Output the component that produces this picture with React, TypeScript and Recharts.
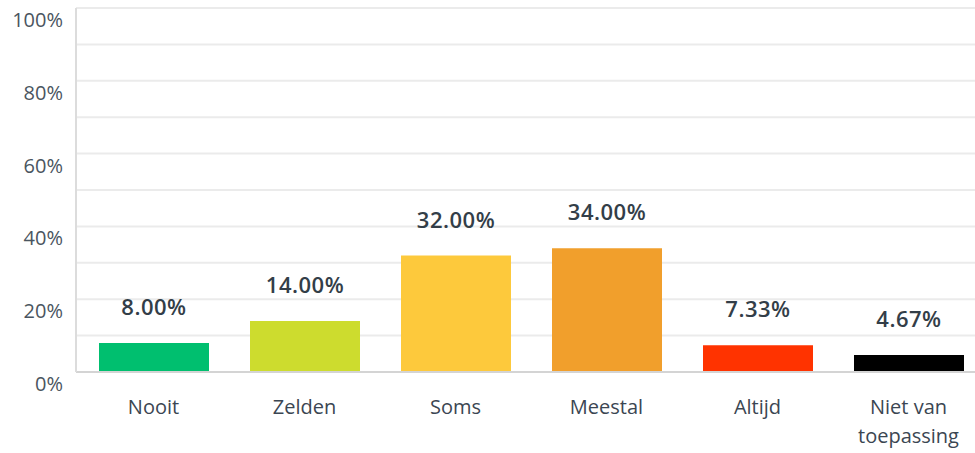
import { BarChart, Bar, XAxis, YAxis, CartesianGrid, LabelList, Cell } from 'recharts'

const categories = ['Nooit', 'Zelden', 'Soms', 'Meestal', 'Altijd', 'Niet van toepassing']
const percentages = [8.0, 14.0, 32.0, 34.0, 7.33, 4.67]
const barColors = ['#00bf6f', '#cddc2e', '#fdc93c', '#f19f2c', '#ff3300', '#000000']
const gridTicks = [0, 10, 20, 30, 40, 50, 60, 70, 80, 90, 100]
const labelTicks = [0, 20, 40, 60, 80, 100]
// long category names wrap onto two lines
const wrappedLabels: Record<string, string[]> = {
  'Niet van toepassing': ['Niet van', 'toepassing'],
}

const data = categories.map((name, i) => ({ name, value: percentages[i], color: barColors[i] }))

const FONT = '"Open Sans", sans-serif'

function YTick({ x, y, payload }: any) {
  if (!labelTicks.includes(payload.value)) return null
  return (
    <text x={x} y={y} dy={19} textAnchor="end" fontSize={20} fontFamily={FONT} fill="#4a5560">
      {payload.value}%
    </text>
  )
}

function XTick({ x, y, payload }: any) {
  const lines = wrappedLabels[payload.value] ?? [payload.value]
  return (
    <text x={x} y={y} textAnchor="middle" fontSize={20} fontFamily={FONT} fill="#3b4652">
      {lines.map((line, i) => (
        <tspan key={i} x={x} dy={i === 0 ? 34 : 29}>
          {line}
        </tspan>
      ))}
    </text>
  )
}

export default function App() {
  return (
    <div style={{ position: 'absolute', left: 0, top: 0, width: 975, height: 453, overflow: 'hidden', background: '#fff' }}>
      <BarChart width={990} height={453} data={data} margin={{ top: 8, right: 6, left: 0, bottom: 51 }}>
        <CartesianGrid vertical={false} stroke="#ebebeb" strokeWidth={2} />
        <XAxis
          dataKey="name"
          height={30}
          interval={0}
          padding={{ left: 2, right: 0 }}
          tickLine={false}
          axisLine={{ stroke: '#d4d4d4', strokeWidth: 2 }}
          tick={<XTick />}
        />
        <YAxis
          width={76}
          domain={[0, 100]}
          ticks={gridTicks}
          interval={0}
          tickLine={false}
          tickSize={6}
          tickMargin={7}
          axisLine={{ stroke: '#dcdcdc', strokeWidth: 2 }}
          tick={<YTick />}
        />
        <Bar dataKey="value" barSize={110} isAnimationActive={false}>
          {data.map((d) => (
            <Cell key={d.name} fill={d.color} />
          ))}
          <LabelList
            dataKey="value"
            position="top"
            offset={28}
            formatter={(v: any) => `${Number(v).toFixed(2)}%`}
            style={{ fontSize: 22, fontWeight: 600, fontFamily: FONT, fill: '#333e48', letterSpacing: 0.5 }}
          />
        </Bar>
      </BarChart>
    </div>
  )
}
